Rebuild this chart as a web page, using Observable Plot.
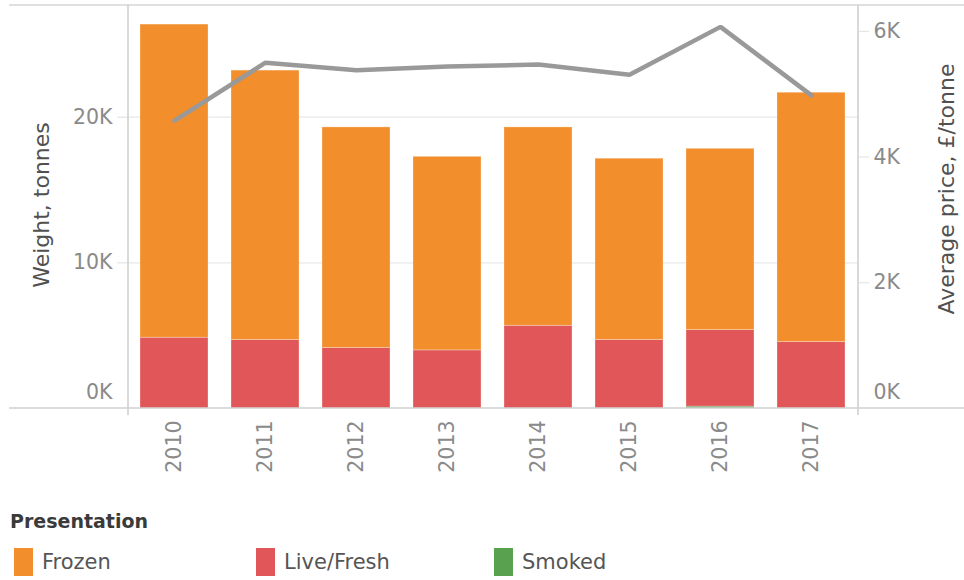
<!DOCTYPE html>
<html>
<head>
<meta charset="utf-8">
<script src="https://cdn.jsdelivr.net/npm/d3@7"></script>
<script src="https://cdn.jsdelivr.net/npm/@observablehq/plot@0.6"></script>
<style>
  html, body { margin: 0; padding: 0; background: #fff; }
  #wrap { position: relative; width: 964px; height: 580px; font-family: "DejaVu Sans", sans-serif; overflow: hidden; }
  #chart svg { display: block; }
  #legend-title { position: absolute; left: 10px; top: 510px; font-size: 19px; font-weight: 600; color: #3a3a3a; }
  .item { position: absolute; top: 548px; height: 28px; display: flex; align-items: center; font-size: 21px; color: #555; }
  .sw { width: 19px; height: 28px; margin-right: 9px; }
</style>
</head>
<body>
<div id="wrap">
  <div id="chart"></div>
  <div id="legend-title">Presentation</div>
  <div id="legend"></div>
</div>
<script>
const years = ["2010","2011","2012","2013","2014","2015","2016","2017"];
const frozen    = [21500, 18500, 15150, 13290, 13620, 12450, 12450, 17120];
const liveFresh = [4860, 4700, 4150, 3990, 5680, 4700, 5250, 4560];
const smoked    = [0, 0, 0, 0, 0, 0, 130, 0];
const price     = [4580, 5500, 5380, 5440, 5470, 5310, 6070, 4980];
const categories = ["Frozen", "Live/Fresh", "Smoked"];
const colors = ["#f28e2b", "#e15759", "#59a14f"];
const leftTicks = [0, 10000, 20000];
const rightTicks = [0, 2000, 4000, 6000];

const yMax = 27670, rMax = 6410;
const k = yMax / rMax;

const rows = [];
years.forEach((y, i) => {
  rows.push({year: y, presentation: "Smoked", weight: smoked[i]});
  rows.push({year: y, presentation: "Live/Fresh", weight: liveFresh[i]});
  rows.push({year: y, presentation: "Frozen", weight: frozen[i]});
});
const priceRows = years.map((y, i) => ({year: y, price: price[i], scaled: price[i] * k}));

const fmtK = d => Math.round(d / 1000) + "K";
const tickColor = "#8a8a8a";
const fs = 20.5;

const plot = Plot.plot({
  width: 964,
  height: 480,
  marginLeft: 127,
  marginRight: 106,
  marginTop: 5,
  marginBottom: 72,
  style: {fontFamily: "'DejaVu Sans', sans-serif", fontSize: fs + "px", background: "#fff"},
  x: {type: "band", domain: years, paddingInner: 0.25, paddingOuter: 0.14, label: null},
  y: {domain: [0, yMax], label: null},
  color: {domain: categories, range: colors},
  marks: [
    Plot.gridY(leftTicks.filter(d => d > 0), {stroke: "#e8e8e8", strokeOpacity: 1, strokeWidth: 1.2}),
    Plot.barY(rows, {x: "year", y: "weight", fill: "presentation", order: ["Smoked", "Live/Fresh", "Frozen"], stroke: "#fff", strokeOpacity: 0.35, strokeWidth: 0.8}),
    Plot.lineY(priceRows, {x: "year", y: "scaled", stroke: "#999999", strokeWidth: 4.5, strokeLinejoin: "miter"}),
    Plot.axisY(leftTicks.filter(d => d > 0), {anchor: "left", tickSize: 10, tickPadding: 5, stroke: "#e0e0e0", color: tickColor, tickFormat: fmtK, label: null, fontSize: fs}),
    Plot.axisY([0], {anchor: "left", tickSize: 0, tickPadding: 15, dy: -16, color: tickColor, tickFormat: fmtK, label: null, fontSize: fs}),
    Plot.axisY(rightTicks.filter(d => d > 0).map(d => d * k), {anchor: "right", tickSize: 10, tickPadding: 5, stroke: "#e0e0e0", color: tickColor, tickFormat: d => fmtK(d / k), label: null, fontSize: fs}),
    Plot.axisY([0], {anchor: "right", tickSize: 0, tickPadding: 15, dy: -16, color: tickColor, tickFormat: d => fmtK(d), label: null, fontSize: fs}),
    Plot.axisX({tickRotate: -90, tickSize: 0, tickPadding: 12, color: tickColor, label: null, fontSize: fs})
  ]
});

const svg = d3.select(plot);
const yTop = 5, yBase = 480 - 72;
const g = svg.append("g").attr("stroke-width", 1.6);
g.append("line").attr("x1", 9).attr("x2", 964).attr("y1", yTop).attr("y2", yTop).attr("stroke", "#d6d6d6");
g.append("line").attr("x1", 9).attr("x2", 964).attr("y1", yBase).attr("y2", yBase).attr("stroke", "#d0d0d0");
g.append("line").attr("x1", 128).attr("x2", 128).attr("y1", yTop).attr("y2", yBase + 7).attr("stroke", "#d0d0d0");
g.append("line").attr("x1", 858).attr("x2", 858).attr("y1", yTop).attr("y2", yBase + 7).attr("stroke", "#d0d0d0");

svg.append("text").attr("transform", "translate(41,205) rotate(-90)").attr("text-anchor", "middle").attr("dominant-baseline", "central")
  .attr("font-size", 22).attr("fill", "#505050").text("Weight, tonnes");
svg.append("text").attr("transform", "translate(946,189) rotate(-90)").attr("text-anchor", "middle").attr("dominant-baseline", "central")
  .attr("font-size", 22).attr("fill", "#505050").text("Average price, £/tonne");

document.getElementById("chart").appendChild(plot);

const lefts = [14, 256, 494];
const legend = document.getElementById("legend");
categories.forEach((c, i) => {
  const d = document.createElement("div");
  d.className = "item";
  d.style.left = lefts[i] + "px";
  d.innerHTML = `<div class="sw" style="background:${colors[i]}"></div><span>${c}</span>`;
  legend.appendChild(d);
});
</script>
</body>
</html>
